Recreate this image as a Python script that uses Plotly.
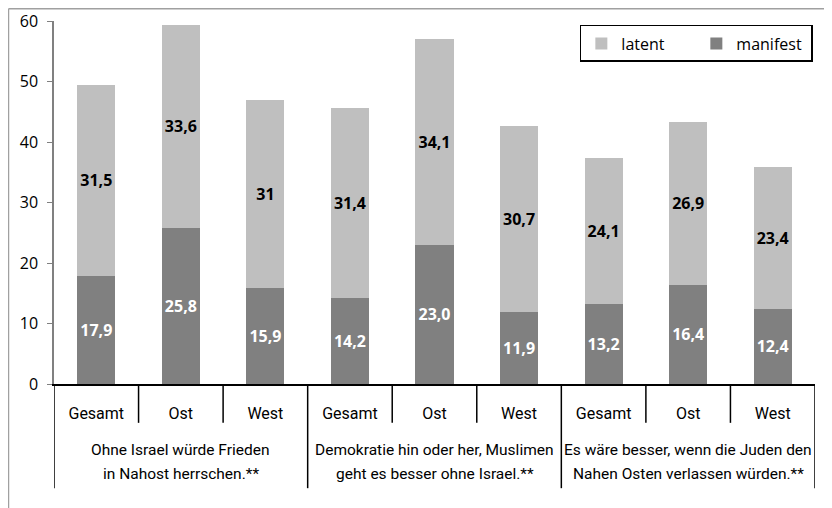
import plotly.graph_objects as go

groups_line1 = [
    "Ohne Israel würde Frieden",
    "Demokratie hin oder her, Muslimen",
    "Es wäre besser, wenn die Juden den",
]
groups_line2 = [
    "in Nahost herrschen.**",
    "geht es besser ohne Israel.**",
    "Nahen Osten verlassen würden.**",
]
regions = ["Gesamt", "Ost", "West"]

manifest = [17.9, 25.8, 15.9, 14.2, 23.0, 11.9, 13.2, 16.4, 12.4]
latent = [31.5, 33.6, 31.0, 31.4, 34.1, 30.7, 24.1, 26.9, 23.4]
manifest_text = ["17,9", "25,8", "15,9", "14,2", "23,0", "11,9", "13,2", "16,4", "12,4"]
latent_text = ["31,5", "33,6", "31", "31,4", "34,1", "30,7", "24,1", "26,9", "23,4"]

pos = list(range(len(manifest)))
tick_labels = [r for g in groups_line1 for r in regions]

NARROW = "Roboto, Liberation Sans, sans-serif"
LABEL = "Open Sans, DejaVu Sans, sans-serif"

fig = go.Figure()
fig.add_trace(go.Bar(
    x=pos, y=manifest, name="manifest", width=0.45,
    marker=dict(color="#808080", line=dict(width=0)),
    text=manifest_text, textposition="inside", insidetextanchor="middle",
    textfont=dict(family=LABEL, size=16, color="white", weight="bold"),
))
fig.add_trace(go.Bar(
    x=pos, y=latent, name="latent", width=0.45,
    marker=dict(color="#bfbfbf", line=dict(width=0)),
    text=latent_text, textposition="inside", insidetextanchor="middle",
    textfont=dict(family=LABEL, size=16, color="black", weight="bold"),
))

# the page body has an 8px margin, so the figure is a bit smaller
fig.update_layout(
    barmode="stack",
    width=824, height=500,
    margin=dict(l=46, r=17, t=13, b=124, autoexpand=False),
    paper_bgcolor="white",
    plot_bgcolor="white",
    font=dict(family=LABEL, size=16, color="black"),
    uniformtext=dict(mode="show", minsize=16),
    legend=dict(
        orientation="h", traceorder="reversed",
        x=0.691, y=0.989, xanchor="left", yanchor="top",
        bordercolor="black", borderwidth=1.5,
        entrywidth=70, entrywidthmode="pixels",
        itemwidth=30,
        font=dict(family=LABEL, size=16),
    ),
    showlegend=True,
)
fig.update_yaxes(
    range=[0, 60], dtick=10, showgrid=False, zeroline=False, automargin=False,
    showline=True, linecolor="#808080", linewidth=1.5,
    ticks="outside", ticklen=5, tickcolor="#808080",
    ticklabelstandoff=6,
    tickfont=dict(family=LABEL, size=16, color="black"),
)
fig.update_xaxes(
    range=[-0.5, 8.5], showgrid=False, zeroline=False, automargin=False,
    showline=True, linecolor="black", linewidth=1.5,
    tickmode="array", tickvals=pos, ticktext=tick_labels, ticks="",
    ticklabelstandoff=14,
    tickfont=dict(family=NARROW, size=16),
)

# separators between the single bars
for i in range(len(pos) - 1):
    if (i + 1) % 3 == 0:
        continue
    fig.add_shape(type="line", xref="x", yref="paper", x0=i + 0.5, x1=i + 0.5,
                  y0=0, y1=-0.107, line=dict(color="black", width=1.5))
# dividers between the statements
for k in range(len(groups_line1) + 1):
    xv = 3 * k - 0.5
    fig.add_shape(type="line", xref="x", yref="paper", x0=xv, x1=xv,
                  y0=0, y1=-0.287, line=dict(color="black", width=1.5))
# statement labels
for k in range(len(groups_line1)):
    fig.add_annotation(x=3 * k + 1, y=-0.182, xref="x", yref="paper",
                       text=groups_line1[k], showarrow=False, yanchor="middle",
                       font=dict(family=NARROW, size=15.5, color="black"))
    fig.add_annotation(x=3 * k + 1, y=-0.248, xref="x", yref="paper",
                       text=groups_line2[k], showarrow=False, yanchor="middle",
                       font=dict(family=NARROW, size=15.5, color="black"))

# outer frame lines (top and left)
fig.add_shape(type="line", xref="paper", yref="paper", x0=-0.0598, x1=1.03, y0=1.0337, y1=1.0337,
              line=dict(color="#a0a0a0", width=1.5))
fig.add_shape(type="line", xref="paper", yref="paper", x0=-0.0598, x1=-0.0598, y0=-0.35, y1=1.0337,
              line=dict(color="#a0a0a0", width=1.5))

fig.write_html("out.html")
